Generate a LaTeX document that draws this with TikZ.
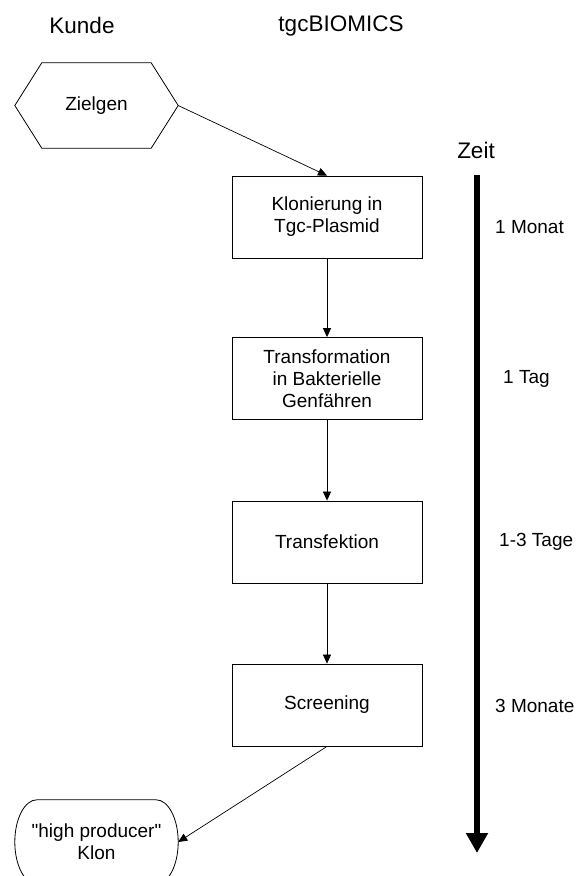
\documentclass[tikz,border=0pt]{standalone}
\usepackage{fontspec}
\setmainfont{Liberation Sans}[Ligatures=TeXOff]
\usetikzlibrary{arrows.meta,calc}
\begin{document}
\begin{tikzpicture}[x=1pt,y=-1pt,
  txt/.style={font=\fontsize{19}{22}\selectfont, align=center, inner sep=0pt},
  head/.style={font=\fontsize{22.5}{26}\selectfont, inner sep=0pt},
  procbox/.style={txt, draw, line width=0.8pt, minimum width=190pt, minimum height=82pt},
  shapebox/.style={txt, minimum width=163pt},
  outline/.style={line width=0.8pt},
  flow/.style={line width=0.7pt, -{Triangle[length=9pt,width=8pt]}},
  timelbl/.style={txt, anchor=west},
  timebar/.style={line width=6pt, -{Triangle[length=20pt,width=21pt]}}]
\clip (0,0) rectangle (580,876);
\fill[white] (0,0) rectangle (580,876);
% headers
\node[head] (kunde) at (82,25) {Kunde};
\node[head] (firma) at (341,26) {tgcBIOMICS};
\node[head] (zeit) at (476,150) {Zeit};
% customer shapes
\node[shapebox, minimum height=85pt] (hex) at (96.5,105.5) {Zielgen};
\draw[outline] (hex.west) -- ($(hex.north west)+(27,0)$) -- ($(hex.north east)+(-27,0)$) -- (hex.east) -- ($(hex.south east)+(-27,0)$) -- ($(hex.south west)+(27,0)$) -- cycle;
\node[shapebox, minimum height=84pt] (oval) at (96.5,842) {"high producer"\\Klon};
\draw[outline] ($(oval.north west)+(22,0)$) -- ($(oval.north east)+(-22,0)$)
  .. controls +(12.1,0) and +(0,-23.2) .. (oval.east)
  .. controls +(0,23.2) and +(12.1,0) .. ($(oval.south east)+(-22,0)$)
  -- ($(oval.south west)+(22,0)$)
  .. controls +(-12.1,0) and +(0,23.2) .. (oval.west)
  .. controls +(0,-23.2) and +(-12.1,0) .. ($(oval.north west)+(22,0)$) -- cycle;
% process boxes
\node[procbox] (b1) at (327,217) {Klonierung in\\Tgc-Plasmid};
\node[procbox] (b2) at (327,378.5) {Transformation\\in Bakterielle\\Genfähren};
\node[procbox] (b3) at (327,542) {Transfektion};
\node[procbox] (b4) at (327,705) {Screening};
% connectors
\draw[flow] (hex.east) -- (b1.north);
\draw[flow] (b1.south) -- (b2.north);
\draw[flow] (b2.south) -- (b3.north);
\draw[flow] (b3.south) -- (b4.north);
\draw[flow] (b4.south) -- (oval.east);
% time axis
\coordinate (tstart) at (477,175);
\coordinate (tend) at (477,853);
\draw[timebar] (tstart) -- (tend);
\node[timelbl] (t1) at (495,227) {1 Monat};
\node[timelbl] (t2) at (503,379) {1 Tag};
\node[timelbl] (t3) at (499,542) {1-3 Tage};
\node[timelbl] (t4) at (495,706) {3 Monate};
\end{tikzpicture}
\end{document}
